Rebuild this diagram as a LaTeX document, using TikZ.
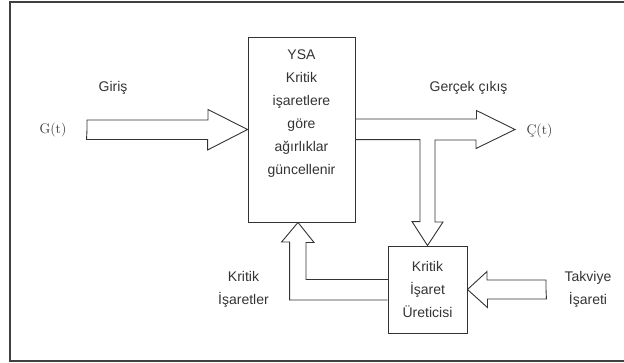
\documentclass[tikz,border=0pt]{standalone}
\usepackage{fontspec}
\setsansfont{Liberation Sans}
\renewcommand{\familydefault}{\sfdefault}
\usepackage{tikz}
\usetikzlibrary{calc}
\tikzset{
blok/.style={draw=black!80, line width=0.9bp, rectangle, inner sep=0pt},
etiket/.style={text=black!80, align=center, inner sep=0pt,
  font=\fontsize{14bp}{23bp}\selectfont},
sinyal/.style={text=black!80, inner sep=0pt,
  font=\rmfamily\fontsize{14bp}{17bp}\selectfont},
okblok/.style={draw=black!80, line width=0.9bp, line join=miter},
cerceve/.style={draw=black!75, line width=1.8bp},
}

\begin{document}
\begin{tikzpicture}[x=1bp,y=-1bp]
\useasboundingbox (0,0) rectangle (624,362);
\clip (0,0) rectangle (624,362);
\draw[cerceve] (10,2) rectangle (640,361);

% the blocks
\node[blok, minimum width=107bp, minimum height=185bp] (ysa) at (301.5,129.5) {};
\node[etiket, anchor=north] (ysametin) at ($(ysa.north)+(0,13)$)
  {YSA\\Kritik\\işaretlere\\göre\\ağırlıklar\\güncellenir};
\node[blok, etiket, minimum width=79bp, minimum height=87bp] (kritik) at (427.5,289.5)
  {Kritik\\İşaret\\Üreticisi};

% the labels
\node[etiket] (giris) at (113,88) {Giriş};
\node[etiket] (gercek) at (468.5,88) {Gerçek çıkış};
\node[sinyal] (gt) at (53,130) {G(t)};
\node[sinyal] (ct) at (539.5,131) {Ç(t)};
\node[etiket] (kisaret) at (243.5,289) {Kritik\\İşaretler};
\node[etiket] (takviye) at (588,289) {Takviye\\İşareti};

\coordinate (gin) at (87,129.5);
\coordinate (cout) at (515,129.5);
\coordinate (tin) at (546,289.5);

% the arrows
\draw[okblok] (gin) -- ++(0,-9.5) -- ++(121,0) -- ++(0,-10.5) -- (ysa.west)
  -- ++(-40,20.5) -- ++(0,-10.5) -- ++(-121,0) -- cycle;
\draw[okblok] (ysa.east) ++(0,-10.5) -- ++(121,0) -- ++(0,-8.5) -- (cout)
  -- ++(-39,19) -- ++(0,-8.5) -- ++(-41,0) -- ++(0,82) -- ++(8,0)
  -- (kritik.north) -- ++(-15.5,-24) -- ++(8,0) -- ++(0,-82) -- ++(-65,0);
\draw[okblok] (tin) -- ++(0,-9.5) -- ++(-59,0) -- ++(0,-8.5) -- (kritik.east)
  -- ++(20,18) -- ++(0,-8.5) -- ++(59,0) -- cycle;
\draw[okblok] (kritik.west) ++(0,10.5) -- ++(-98,0) -- ++(0,-58) -- ++(-8,0)
  -- ($(ysa.south)+(-3.5,0)$) -- ++(16,20) -- ++(-8,0) -- ++(0,37) -- ++(82,0);
\end{tikzpicture}
\end{document}
